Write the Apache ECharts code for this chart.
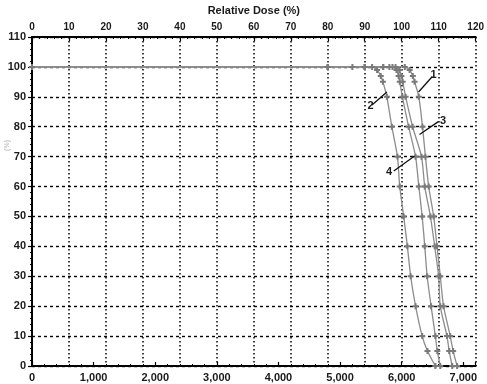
<!DOCTYPE html>
<html><head><meta charset="utf-8">
<script src="https://cdn.jsdelivr.net/npm/echarts@6/dist/echarts.min.js"></script>
<style>html,body{margin:0;padding:0;background:#fff}#c{width:487px;height:384px}</style>
</head><body><div id="c"></div>
<script>
// Dose values (x) and relative volume (%) for each curve
const curve1 = [[0,100],[4800,100],[5400,100],[5800,100],[6050,100],[6128,99],[6180,97],[6209,95],[6278,90],[6337,80],[6385,70],[6438,60],[6519,50],[6573,40],[6626,30],[6679,20],[6787,10],[6835,5],[6899,0]];
const curve2 = [[0,100],[4800,100],[5200,100],[5400,100],[5520,100],[5600,99],[5660,97],[5695,95],[5759,90],[5840,80],[5931,70],[5968,60],[6032,50],[6092,40],[6145,30],[6225,20],[6332,10],[6418,5],[6546,0]];
const curve3 = [[0,100],[4800,100],[5400,100],[5700,100],[5900,100],[5960,99],[5995,97],[6016,95],[6064,90],[6177,80],[6321,70],[6374,60],[6466,50],[6535,40],[6599,30],[6626,20],[6734,10],[6771,5],[6819,0]];
const curve4 = [[0,100],[4800,100],[5400,100],[5700,100],[5850,100],[5915,99],[5950,97],[5968,95],[6011,90],[6112,80],[6225,70],[6278,60],[6332,50],[6374,40],[6413,30],[6477,20],[6546,10],[6578,5],[6626,0]];
// leader lines for curve labels [start], [end]
const leaders = {
  '1': [[6497,96.8],[6273,91.6]],
  '2': [[5518,87.3],[5759,91.6]],
  '3': [[6594,81.7],[6289,77.4]],
  '4': [[5871,65.2],[6209,70.2]]
};
const curves = {'1':curve1,'2':curve2,'3':curve3,'4':curve4};

const chart = echarts.init(document.getElementById('c'));
const plus = 'path://M-1,-3H1V-1H3V1H1V3H-1V1H-3V-1H-1Z';
const lbl = {fontFamily:'Liberation Sans, Arial, sans-serif', fontWeight:'bold', color:'#1a1a1a'};
const series = Object.keys(curves).map(k => ({
  type:'line', xAxisIndex:0, yAxisIndex:0, data:curves[k],
  symbol:plus, symbolSize:6, showAllSymbol:true, smooth:0.25,
  lineStyle:{color:'#8c8c8c', width:1.3},
  itemStyle:{color:'#7a7a7a'},
  animation:false, z:3,
  markLine:{
    silent:true, symbol:['none','none'], animation:false,
    lineStyle:{color:'#111', width:1.3, type:'solid'},
    label:{show:true, position:'start', distance:2, formatter:k, fontSize:11, ...lbl},
    data:[[{coord:leaders[k][0]},{coord:leaders[k][1]}]]
  }
}));

chart.setOption({
  animation:false,
  backgroundColor:'#fff',
  grid:{left:32, right:7, top:32, bottom:18},
  xAxis:[
    {type:'value', position:'bottom', min:0, max:7200, interval:1000,
     axisLine:{show:true, lineStyle:{color:'#000', width:2}},
     axisTick:{show:true, inside:true, length:4, lineStyle:{color:'#000', width:1.2}},
     minorTick:{show:true, splitNumber:5, length:2, lineStyle:{color:'#000'}},
     axisLabel:{fontSize:11, margin:6, showMaxLabel:false, ...lbl,
       formatter:v => v.toLocaleString('en-US')},
     splitLine:{show:false}},
    {type:'value', position:'top', min:0, max:120, interval:10,
     name:'Relative Dose (%)', nameLocation:'middle', nameGap:21,
     nameTextStyle:{fontSize:11, ...lbl},
     axisLine:{show:true, lineStyle:{color:'#000', width:2}},
     axisTick:{show:true, inside:true, length:4, lineStyle:{color:'#000', width:1.2}},
     minorTick:{show:true, splitNumber:5, length:2, lineStyle:{color:'#000'}},
     axisLabel:{fontSize:10, margin:5, ...lbl},
     splitLine:{show:true, lineStyle:{color:'#000', width:1.5, type:[1.5,2.5]}}}
  ],
  yAxis:[{type:'value', min:0, max:110, interval:10,
    axisLine:{show:true, lineStyle:{color:'#000', width:2}},
    axisTick:{show:true, length:4, lineStyle:{color:'#000', width:1.2}},
    minorTick:{show:true, splitNumber:5, length:2, lineStyle:{color:'#000'}},
    axisLabel:{fontSize:11, margin:6, ...lbl},
    splitLine:{show:true, lineStyle:{color:'#000', width:1.4, type:[3,3]}}
  }],
  graphic:[{type:'text', left:4, top:140, rotation:Math.PI/2,
    style:{text:'(%)', fill:'#c4c4c4', font:'bold 7px Liberation Sans, Arial'}}],
  series:series
});
</script></body></html>
